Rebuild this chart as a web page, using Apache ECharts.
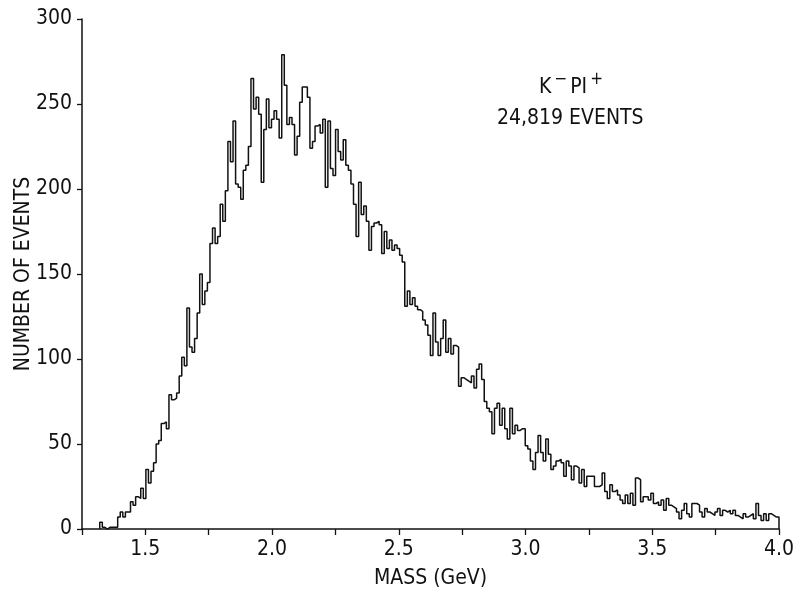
<!DOCTYPE html>
<html><head><meta charset="utf-8">
<script src="https://cdn.jsdelivr.net/npm/echarts@6/dist/echarts.min.js"></script>
<style>html,body{margin:0;padding:0;background:#fff}#c{width:796px;height:593px}</style>
</head><body><div id="c"></div>
<script>
// Histogram binning (GeV) and counts per bin
const BIN_START = 1.32;
const BIN_END = 4.00;
const counts = [
  4, 1, 0, 1, 1, 1, 1, 7, 10, 7, 10, 10, 16, 14, 19, 18, 24, 18, 35, 27,
  34, 39, 50, 52, 62, 63, 59, 79, 76, 77, 80, 90, 101, 96, 130, 107, 104, 112, 127, 150,
  132, 140, 145, 168, 177, 168, 172, 191, 181, 199, 228, 216, 240, 203, 201, 194, 211, 214, 225, 265,
  247, 254, 244, 204, 235, 253, 236, 241, 246, 241, 230, 279, 261, 238, 242, 238, 220, 231, 251, 260,
  260, 254, 224, 228, 237, 238, 233, 241, 201, 240,
  212, 208, 235, 222, 217, 229, 214, 211, 203, 191, 172, 204, 185, 190, 181, 164, 178, 180, 181, 179,
  162, 175, 165, 170, 164, 167, 165, 161, 157, 131, 140, 132, 136, 131, 129, 128, 123, 120, 114, 102,
  127, 110, 102, 112, 123, 104, 112, 103, 108, 107,
  84, 89, 88, 87, 86, 90, 83, 94, 97, 88, 75, 71, 69, 56, 71, 74, 61, 71, 59, 53,
  71, 56, 61, 58, 59, 59, 49, 47, 40, 35, 45, 55, 45, 40, 53, 44, 35, 37, 40, 41,
  39, 31, 40, 37, 29, 37, 36, 27, 35, 25,
  31, 31, 31, 25, 25, 26, 33, 22, 18, 26, 22, 23, 20, 17, 15, 20, 15, 21, 14, 30,
  29, 16, 19, 19, 17, 21, 15, 16, 14, 17, 11, 18, 14, 13, 12, 10, 6, 11, 15, 9,
  7, 15, 15, 14, 10, 7, 12, 10, 9, 8, 10, 12, 8, 11, 10, 11, 9, 11, 8, 7,
  6, 9, 7, 8, 9, 6, 15, 8, 5, 9, 5, 9, 8, 7, 7
];
const xAxisRange = [1.25, 4.0];
const xTickStep = 0.25;
const xLabelStep = 0.5;
const yAxisRange = [0, 300];
const yTickStep = 50;
const xTitle = 'MASS (GeV)';
const yTitle = 'NUMBER OF EVENTS';
const annotationParts = ['K', '\u2212', 'PI', '+'];   // K⁻PI⁺
const annotationEvents = '24,819 EVENTS';

const FONT = '"Liberation Sans Narrow","DejaVu Sans Condensed",sans-serif';
const binW = (BIN_END - BIN_START) / counts.length;
const pts = [[BIN_START, 0]];
counts.forEach((c, i) => pts.push([BIN_START + i * binW, c]));
pts.push([BIN_END, counts[counts.length - 1]]);
pts.push([BIN_END, 0]);

const chart = echarts.init(document.getElementById('c'), null, {renderer: 'canvas'});
chart.setOption({
  animation: false,
  backgroundColor: '#fff',
  grid: {left: 82, right: 17, top: 19, bottom: 64, containLabel: false, outerBoundsMode: 'none'},
  xAxis: {
    type: 'value', min: xAxisRange[0], max: xAxisRange[1], interval: xTickStep,
    axisLine: {show: true, onZero: false, lineStyle: {color: '#111', width: 1.5}},
    axisTick: {show: true, inside: false, length: 6, lineStyle: {color: '#111', width: 1.3}},
    axisLabel: {
      margin: 10, color: '#111', fontFamily: FONT, fontSize: 21,
      showMinLabel: true, showMaxLabel: true, hideOverlap: false,
      formatter: v => {
        const r = v / xLabelStep;
        return (Math.abs(r - Math.round(r)) < 1e-6) ? v.toFixed(1) : '';
      }
    },
    splitLine: {show: false},
    name: xTitle, nameLocation: 'middle', nameGap: 39, nameMoveOverlap: false,
    nameTextStyle: {color: '#111', fontFamily: FONT, fontSize: 21}
  },
  yAxis: {
    type: 'value', min: yAxisRange[0], max: yAxisRange[1], interval: yTickStep,
    axisLine: {show: true, lineStyle: {color: '#111', width: 1.5}},
    axisTick: {show: true, inside: false, length: 5, lineStyle: {color: '#111', width: 1.3}},
    axisLabel: {margin: 10, color: '#111', fontFamily: FONT, fontSize: 21},
    splitLine: {show: false},
    name: yTitle, nameLocation: 'middle', nameGap: 48, nameRotate: 90, nameMoveOverlap: false,
    nameTextStyle: {color: '#111', fontFamily: FONT, fontSize: 21}
  },
  graphic: [
    {
      type: 'text', left: 539, top: 71,
      style: {
        text: '{k|' + annotationParts[0] + '}{s|' + annotationParts[1] + '}{k|' + annotationParts[2] + '}{s|' + annotationParts[3] + '}',
        fill: '#111',
        rich: {
          k: {fontFamily: FONT, fontSize: 21, fill: '#111', verticalAlign: 'bottom', padding: [0, 1, 0, 1]},
          s: {fontFamily: FONT, fontSize: 17, fill: '#111', verticalAlign: 'top', padding: [0, 2, 10, 2]}
        }
      }
    },
    {
      type: 'text', left: 497, top: 108,
      style: {text: annotationEvents, fontFamily: FONT, fontSize: 21, fill: '#111'}
    }
  ],
  series: [{
    type: 'line', data: pts, step: 'end', showSymbol: false, symbol: 'none',
    lineStyle: {color: '#111', width: 1.5}, silent: true
  }]
});
</script></body></html>
